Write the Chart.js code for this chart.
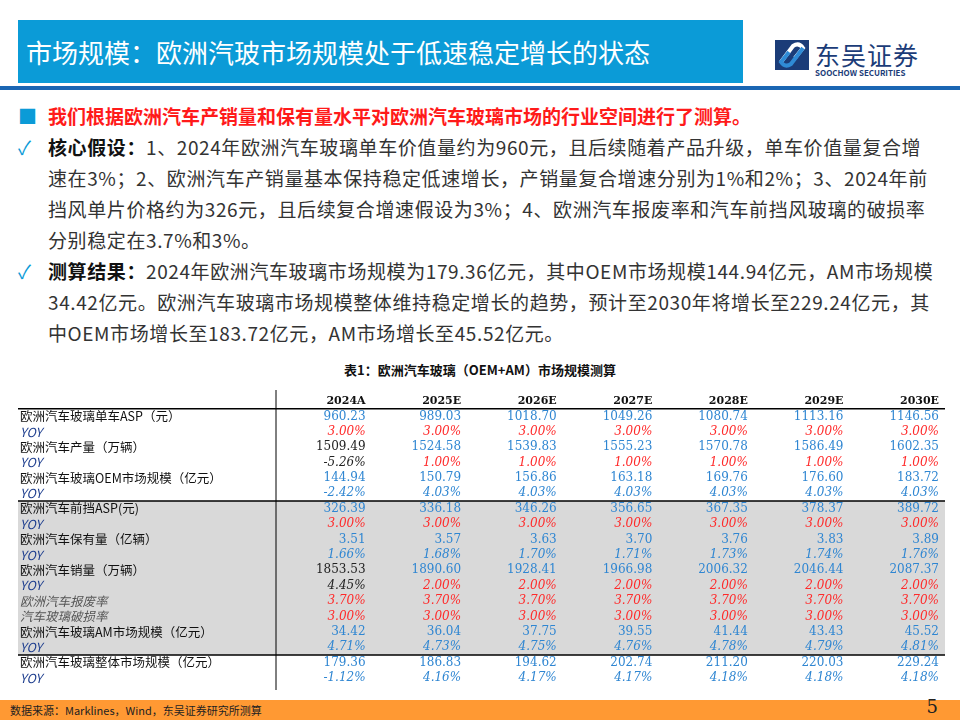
<!DOCTYPE html>
<html><head><meta charset="utf-8">
<script src="https://cdn.jsdelivr.net/npm/chart.js@4"></script>
<style>
body{margin:0;width:960px;height:720px;position:relative;overflow:hidden;background:#fff;font-family:"Noto Sans CJK SC","Noto Sans",sans-serif;}
#bar{position:absolute;left:18px;top:20px;width:725px;height:63px;background:#0b9bd7;color:#fff;font-size:26px;line-height:63px;padding-left:8px;box-sizing:border-box;}
#rule{position:absolute;left:0;top:86px;width:960px;height:4px;background:#1a66b3;}
#logo{position:absolute;left:775px;top:40px;}
#logo .cn{position:absolute;left:40px;top:-4px;font-size:25px;color:#1b3c78;white-space:nowrap;letter-spacing:1px;}
#logo .en{position:absolute;left:40px;top:27px;font-size:8px;font-weight:bold;color:#1b3c78;white-space:nowrap;}
#txt{position:absolute;left:18px;top:100px;width:920px;font-size:19px;letter-spacing:0.6px;line-height:31px;color:#333;}
#txt p{margin:0;padding-left:30px;position:relative;}
#txt .mk{position:absolute;left:0;color:#0b9bd7;}
#cap{position:absolute;left:0;width:960px;top:360px;text-align:center;font-size:13px;font-weight:bold;color:#111;}
#cv{position:absolute;left:0;top:385px;width:960px;height:310px;}
#foot{position:absolute;left:0;top:700px;width:960px;height:20px;background:#ff9933;font-size:11px;line-height:20px;color:#222;}
#foot span{padding-left:10px;}
#foot b{position:absolute;right:22px;top:-3px;font-size:18px;font-weight:normal;font-family:"DejaVu Serif",serif;}
</style></head><body>
<div id="bar">市场规模：欧洲汽玻市场规模处于低速稳定增长的状态</div>
<div id="rule"></div>
<div id="logo"><svg width="34" height="30" viewBox="0 0 34 30"><rect width="34" height="30" fill="#1b3c78"/><path d="M6 22 L18 6 Q24 2 28 8 L20 18" stroke="#fff" stroke-width="4" fill="none"/><path d="M28 8 L16 24 Q10 28 6 22 L14 12" stroke="#2f8bd6" stroke-width="4" fill="none"/></svg><span class="cn">东吴证券</span><span class="en">SOOCHOW SECURITIES</span></div>
<div id="txt">
<p style="color:#ff1a1a;font-weight:bold;letter-spacing:0"><span class="mk">■</span>我们根据欧洲汽车产销量和保有量水平对欧洲汽车玻璃市场的行业空间进行了测算。</p>
<p><span class="mk">✓</span><b style="color:#111">核心假设：</b>1、2024年欧洲汽车玻璃单车价值量约为960元，且后续随着产品升级，单车价值量复合增速在3%；2、欧洲汽车产销量基本保持稳定低速增长，产销量复合增速分别为1%和2%；3、2024年前挡风单片价格约为326元，且后续复合增速假设为3%；4、欧洲汽车报废率和汽车前挡风玻璃的破损率分别稳定在3.7%和3%。</p>
<p><span class="mk">✓</span><b style="color:#111">测算结果：</b>2024年欧洲汽车玻璃市场规模为179.36亿元，其中OEM市场规模144.94亿元，AM市场规模34.42亿元。欧洲汽车玻璃市场规模整体维持稳定增长的趋势，预计至2030年将增长至229.24亿元，其中OEM市场增长至183.72亿元，AM市场增长至45.52亿元。</p>
</div>
<div id="cap">表1：欧洲汽车玻璃（OEM+AM）市场规模测算</div>
<canvas id="cv" width="960" height="310"></canvas>
<div id="foot"><span>数据来源：Marklines，Wind，东吴证券研究所测算</span><b>5</b></div>
<script>
// 表格数据
const anos = ['2024A', '2025E', '2026E', '2027E', '2028E', '2029E', '2030E'];
const linhas = ['欧洲汽车玻璃单车ASP（元）', 'YOY', '欧洲汽车产量（万辆）', 'YOY', '欧洲汽车玻璃OEM市场规模（亿元）', 'YOY',
    '欧洲汽车前挡ASP(元)', 'YOY', '欧洲汽车保有量（亿辆）', 'YOY', '欧洲汽车销量（万辆）', 'YOY',
    '欧洲汽车报废率', '汽车玻璃破损率', '欧洲汽车玻璃AM市场规模（亿元）', 'YOY', '欧洲汽车玻璃整体市场规模（亿元）', 'YOY'];
const valores = [
    ['960.23', '989.03', '1018.70', '1049.26', '1080.74', '1113.16', '1146.56'],
    ['3.00%', '3.00%', '3.00%', '3.00%', '3.00%', '3.00%', '3.00%'],
    ['1509.49', '1524.58', '1539.83', '1555.23', '1570.78', '1586.49', '1602.35'],
    ['-5.26%', '1.00%', '1.00%', '1.00%', '1.00%', '1.00%', '1.00%'],
    ['144.94', '150.79', '156.86', '163.18', '169.76', '176.60', '183.72'],
    ['-2.42%', '4.03%', '4.03%', '4.03%', '4.03%', '4.03%', '4.03%'],
    ['326.39', '336.18', '346.26', '356.65', '367.35', '378.37', '389.72'],
    ['3.00%', '3.00%', '3.00%', '3.00%', '3.00%', '3.00%', '3.00%'],
    ['3.51', '3.57', '3.63', '3.70', '3.76', '3.83', '3.89'],
    ['1.66%', '1.68%', '1.70%', '1.71%', '1.73%', '1.74%', '1.76%'],
    ['1853.53', '1890.60', '1928.41', '1966.98', '2006.32', '2046.44', '2087.37'],
    ['4.45%', '2.00%', '2.00%', '2.00%', '2.00%', '2.00%', '2.00%'],
    ['3.70%', '3.70%', '3.70%', '3.70%', '3.70%', '3.70%', '3.70%'],
    ['3.00%', '3.00%', '3.00%', '3.00%', '3.00%', '3.00%', '3.00%'],
    ['34.42', '36.04', '37.75', '39.55', '41.44', '43.43', '45.52'],
    ['4.71%', '4.73%', '4.75%', '4.76%', '4.78%', '4.79%', '4.81%'],
    ['179.36', '186.83', '194.62', '202.74', '211.20', '220.03', '229.24'],
    ['-1.12%', '4.16%', '4.17%', '4.17%', '4.18%', '4.18%', '4.18%']
];
// 每行的颜色: b=蓝, r=红, k=黑
const coresLinha = ['b', 'r', 'b', 'r', 'b', 'b', 'b', 'r', 'b', 'b', 'b', 'r', 'r', 'r', 'b', 'b', 'b', 'b'];
const pretos = ['2-0', '3-0', '10-0', '11-0'];

const yLabels = ['hdr'].concat(linhas.map((l, i) => 'r' + i));
const paleta = { b: '#2f86d2', r: '#ff2a2a', k: '#222' };

const tabela = {
    id: 'tabela',
    beforeDatasetsDraw(chart) {
        const ctx = chart.ctx, x = chart.scales.x, y = chart.scales.y;
        const half = (y.getPixelForValue(1) - y.getPixelForValue(0)) / 2;
        const yTop = r => y.getPixelForValue(r + 1) - half;
        // fundo cinza
        ctx.fillStyle = '#d9d9d9';
        ctx.fillRect(18, yTop(6), x.right - 18, yTop(16) - yTop(6));
        ctx.strokeStyle = '#000';
        ctx.lineWidth = 1.5;
        [0, 6, 16].forEach(r => {
            ctx.beginPath(); ctx.moveTo(18, yTop(r)); ctx.lineTo(x.right, yTop(r)); ctx.stroke();
        });
        ctx.lineWidth = 1;
        ctx.beginPath(); ctx.moveTo(x.left, 5); ctx.lineTo(x.left, chart.height - 5); ctx.stroke();
    },
    afterDatasetsDraw(chart) {
        const ctx = chart.ctx, x = chart.scales.x, y = chart.scales.y;
        const off = x.width / anos.length / 2 - 6;
        ctx.textBaseline = 'middle';
        ctx.textAlign = 'right';
        ctx.font = 'bold 11px "DejaVu Serif", serif';
        ctx.fillStyle = '#111';
        anos.forEach((a, j) => ctx.fillText(a, x.getPixelForValue(j) + off, y.getPixelForValue(0)));
        linhas.forEach((nome, i) => {
            const py = y.getPixelForValue(i + 1);
            const ital = nome === 'YOY' || i === 12 || i === 13;
            ctx.textAlign = 'left';
            ctx.fillStyle = ital ? (nome === 'YOY' ? '#1f3f8f' : '#555') : '#111';
            ctx.font = (ital ? 'italic ' : '') + '12.5px "Noto Sans CJK SC", sans-serif';
            ctx.fillText(nome, 20, py);
            ctx.textAlign = 'right';
            valores[i].forEach((v, j) => {
                const c = pretos.includes(i + '-' + j) ? 'k' : coresLinha[i];
                ctx.fillStyle = paleta[c];
                ctx.font = (v.endsWith('%') ? 'italic ' : '') + '12px "DejaVu Serif", serif';
                ctx.fillText(v, x.getPixelForValue(j) + off, py);
            });
        });
    }
};

new Chart(document.getElementById('cv').getContext('2d'), {
    type: 'bar',
    data: { labels: anos, datasets: [{ data: [] }] },
    options: {
        responsive: false,
        animation: false,
        layout: { padding: { left: 276, right: 15, top: 16, bottom: 17 } },
        plugins: { legend: { display: false }, tooltip: { enabled: false } },
        scales: {
            x: { type: 'category', labels: anos, display: false },
            y: { type: 'category', labels: yLabels, display: false }
        }
    },
    plugins: [tabela]
});
</script>
</body></html>
